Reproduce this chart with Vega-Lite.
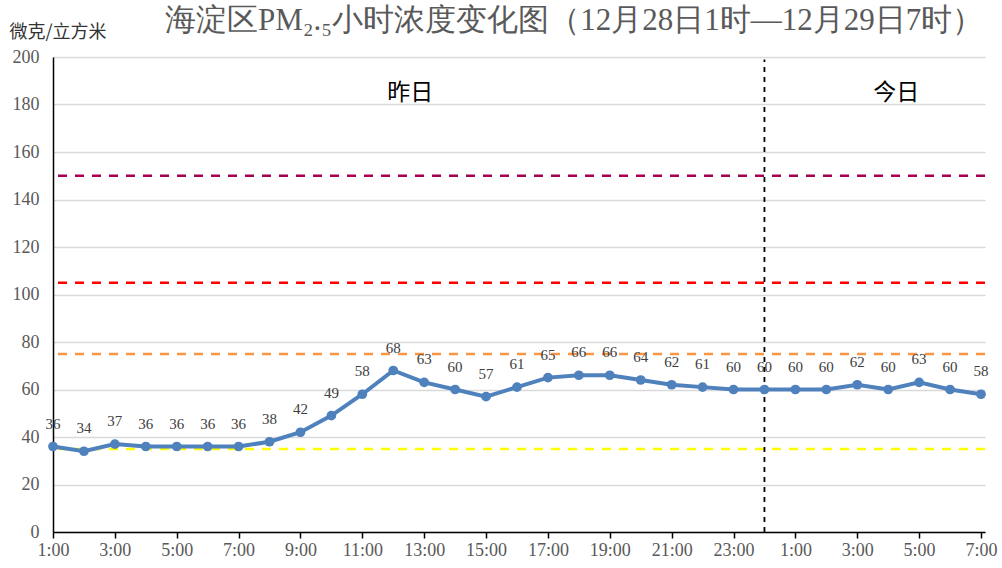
{
  "$schema": "https://vega.github.io/schema/vega-lite/v6.json",
  "width": 932,
  "height": 475,
  "autosize": {"type": "none"},
  "padding": {"left": 53, "top": 57, "right": 17, "bottom": 36},
  "background": "white",
  "title": {
    "text": "海淀区PM₂.₅小时浓度变化图（12月28日1时—12月29日7时）",
    "anchor": "start",
    "dx": 156,
    "offset": -14,
    "font": "Liberation Serif, Times New Roman, serif",
    "fontSize": 31,
    "fontWeight": "normal",
    "color": "#595959"
  },
  "config": {
    "view": {"stroke": null},
    "axis": {"labelFont": "Liberation Serif, Times New Roman, serif", "labelFontSize": 18, "labelColor": "#595959"}
  },
  "datasets": {
    "pm": [
      {"idx": 1, "time": "1:00", "value": 36},
      {"idx": 2, "time": "2:00", "value": 34},
      {"idx": 3, "time": "3:00", "value": 37},
      {"idx": 4, "time": "4:00", "value": 36},
      {"idx": 5, "time": "5:00", "value": 36},
      {"idx": 6, "time": "6:00", "value": 36},
      {"idx": 7, "time": "7:00", "value": 36},
      {"idx": 8, "time": "8:00", "value": 38},
      {"idx": 9, "time": "9:00", "value": 42},
      {"idx": 10, "time": "10:00", "value": 49},
      {"idx": 11, "time": "11:00", "value": 58},
      {"idx": 12, "time": "12:00", "value": 68},
      {"idx": 13, "time": "13:00", "value": 63},
      {"idx": 14, "time": "14:00", "value": 60},
      {"idx": 15, "time": "15:00", "value": 57},
      {"idx": 16, "time": "16:00", "value": 61},
      {"idx": 17, "time": "17:00", "value": 65},
      {"idx": 18, "time": "18:00", "value": 66},
      {"idx": 19, "time": "19:00", "value": 66},
      {"idx": 20, "time": "20:00", "value": 64},
      {"idx": 21, "time": "21:00", "value": 62},
      {"idx": 22, "time": "22:00", "value": 61},
      {"idx": 23, "time": "23:00", "value": 60},
      {"idx": 24, "time": "24:00", "value": 60},
      {"idx": 25, "time": "1:00", "value": 60},
      {"idx": 26, "time": "2:00", "value": 60},
      {"idx": 27, "time": "3:00", "value": 62},
      {"idx": 28, "time": "4:00", "value": 60},
      {"idx": 29, "time": "5:00", "value": 63},
      {"idx": 30, "time": "6:00", "value": 60},
      {"idx": 31, "time": "7:00", "value": 58}
    ],
    "limits": [
      {"level": 35, "color": "#FFFF00"},
      {"level": 75, "color": "#F79646"},
      {"level": 105, "color": "#FF0000"},
      {"level": 150, "color": "#A50050"}
    ],
    "days": [
      {"idx": 12.55, "y": 185, "label": "昨日"},
      {"idx": 28.26, "y": 185, "label": "今日"}
    ],
    "divider": [{"idx": 24, "y0": 0, "y1": 199}]
  },
  "layer": [
    {
      "data": {"name": "pm"},
      "mark": {"type": "rule", "opacity": 0},
      "encoding": {
        "x": {
          "field": "idx", "type": "quantitative",
          "scale": {"domain": [1, 31.13], "nice": false, "zero": false},
          "axis": {
            "title": null,
            "values": [1,2,3,4,5,6,7,8,9,10,11,12,13,14,15,16,17,18,19,20,21,22,23,24,25,26,27,28,29,30,31],
            "labelExpr": "datum.value % 2 == 1 ? (datum.value > 24 ? (datum.value - 24) : datum.value) + ':00' : ''",
            "grid": false,
            "domainColor": "#000000",
            "domainWidth": 1.5,
            "tickColor": "#000000",
            "tickWidth": 1.5,
            "tickSize": 6,
            "labelPadding": 3,
            "labelFlush": false,
            "labelOverlap": false
          }
        },
        "y": {
          "field": "value", "type": "quantitative",
          "scale": {"domain": [0, 200], "nice": false},
          "axis": {
            "values": [0,20,40,60,80,100,120,140,160,180,200],
            "title": "微克/立方米",
            "titleAngle": 0,
            "titleAlign": "left",
            "titleBaseline": "middle",
            "titleX": -44,
            "titleY": -25,
            "titleFont": "Noto Sans CJK SC",
            "titleFontSize": 18,
            "titleFontWeight": "normal",
            "titleColor": "#333333",
            "grid": true,
            "gridColor": "#D9D9D9",
            "gridWidth": 1.5,
            "ticks": false,
            "domainColor": "#000000",
            "domainWidth": 1.5,
            "labelPadding": 14
          }
        }
      }
    },
    {
      "data": {"name": "limits"},
      "mark": {"type": "rule", "strokeWidth": 2.5, "strokeDash": [9, 8]},
      "encoding": {
        "y": {"field": "level", "type": "quantitative"},
        "color": {"field": "color", "type": "nominal", "scale": null}
      }
    },
    {
      "data": {"name": "divider"},
      "mark": {"type": "rule", "strokeWidth": 1.8, "strokeDash": [5, 5], "color": "#000000"},
      "encoding": {
        "x": {"field": "idx", "type": "quantitative"},
        "y": {"field": "y0", "type": "quantitative"},
        "y2": {"field": "y1"}
      }
    },
    {
      "data": {"name": "pm"},
      "mark": {"type": "line", "color": "#4F81BD", "strokeWidth": 4, "point": {"filled": true, "size": 95, "color": "#4F81BD", "opacity": 1}},
      "encoding": {
        "x": {"field": "idx", "type": "quantitative"},
        "y": {"field": "value", "type": "quantitative"}
      }
    },
    {
      "data": {"name": "pm"},
      "mark": {"type": "text", "dy": -15, "baseline": "bottom", "font": "Liberation Serif, Times New Roman, serif", "fontSize": 15, "color": "#404040"},
      "encoding": {
        "x": {"field": "idx", "type": "quantitative"},
        "y": {"field": "value", "type": "quantitative"},
        "text": {"field": "value", "type": "quantitative"}
      }
    },
    {
      "data": {"name": "days"},
      "mark": {"type": "text", "font": "Noto Sans CJK SC", "fontSize": 23, "color": "#000000", "baseline": "middle"},
      "encoding": {
        "x": {"field": "idx", "type": "quantitative"},
        "y": {"field": "y", "type": "quantitative"},
        "text": {"field": "label", "type": "nominal"}
      }
    }
  ]
}
